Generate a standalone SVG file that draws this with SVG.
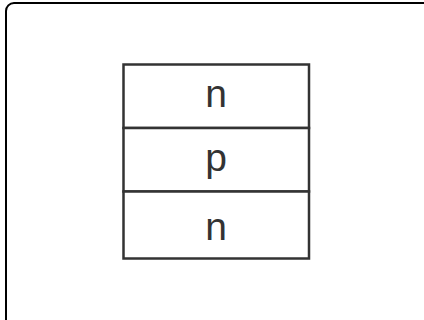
<svg xmlns="http://www.w3.org/2000/svg" width="424" height="320" viewBox="0 0 424 320">
<style>
.cell{fill:#fff;stroke:#333;stroke-width:2.5}
.lbl{font-family:"Liberation Sans",Arial,sans-serif;font-size:39px;fill:#333;text-anchor:middle}
</style>
<rect x="0" y="0" width="424" height="320" fill="#fff"/>
<rect x="6" y="3" width="440" height="340" rx="8" fill="none" stroke="#000" stroke-width="2"/>
<g id="n-top"><rect class="cell" x="123.5" y="64.5" width="185.5" height="63.5"/><text class="lbl" x="216" y="107">n</text></g>
<g id="p-mid"><rect class="cell" x="123.5" y="128" width="185.5" height="63.5"/><text class="lbl" x="216" y="170.5">p</text></g>
<g id="n-bot"><rect class="cell" x="123.5" y="191.5" width="185.5" height="67"/><text class="lbl" x="216" y="239.5">n</text></g>
<g id="connectors"/>
</svg>
